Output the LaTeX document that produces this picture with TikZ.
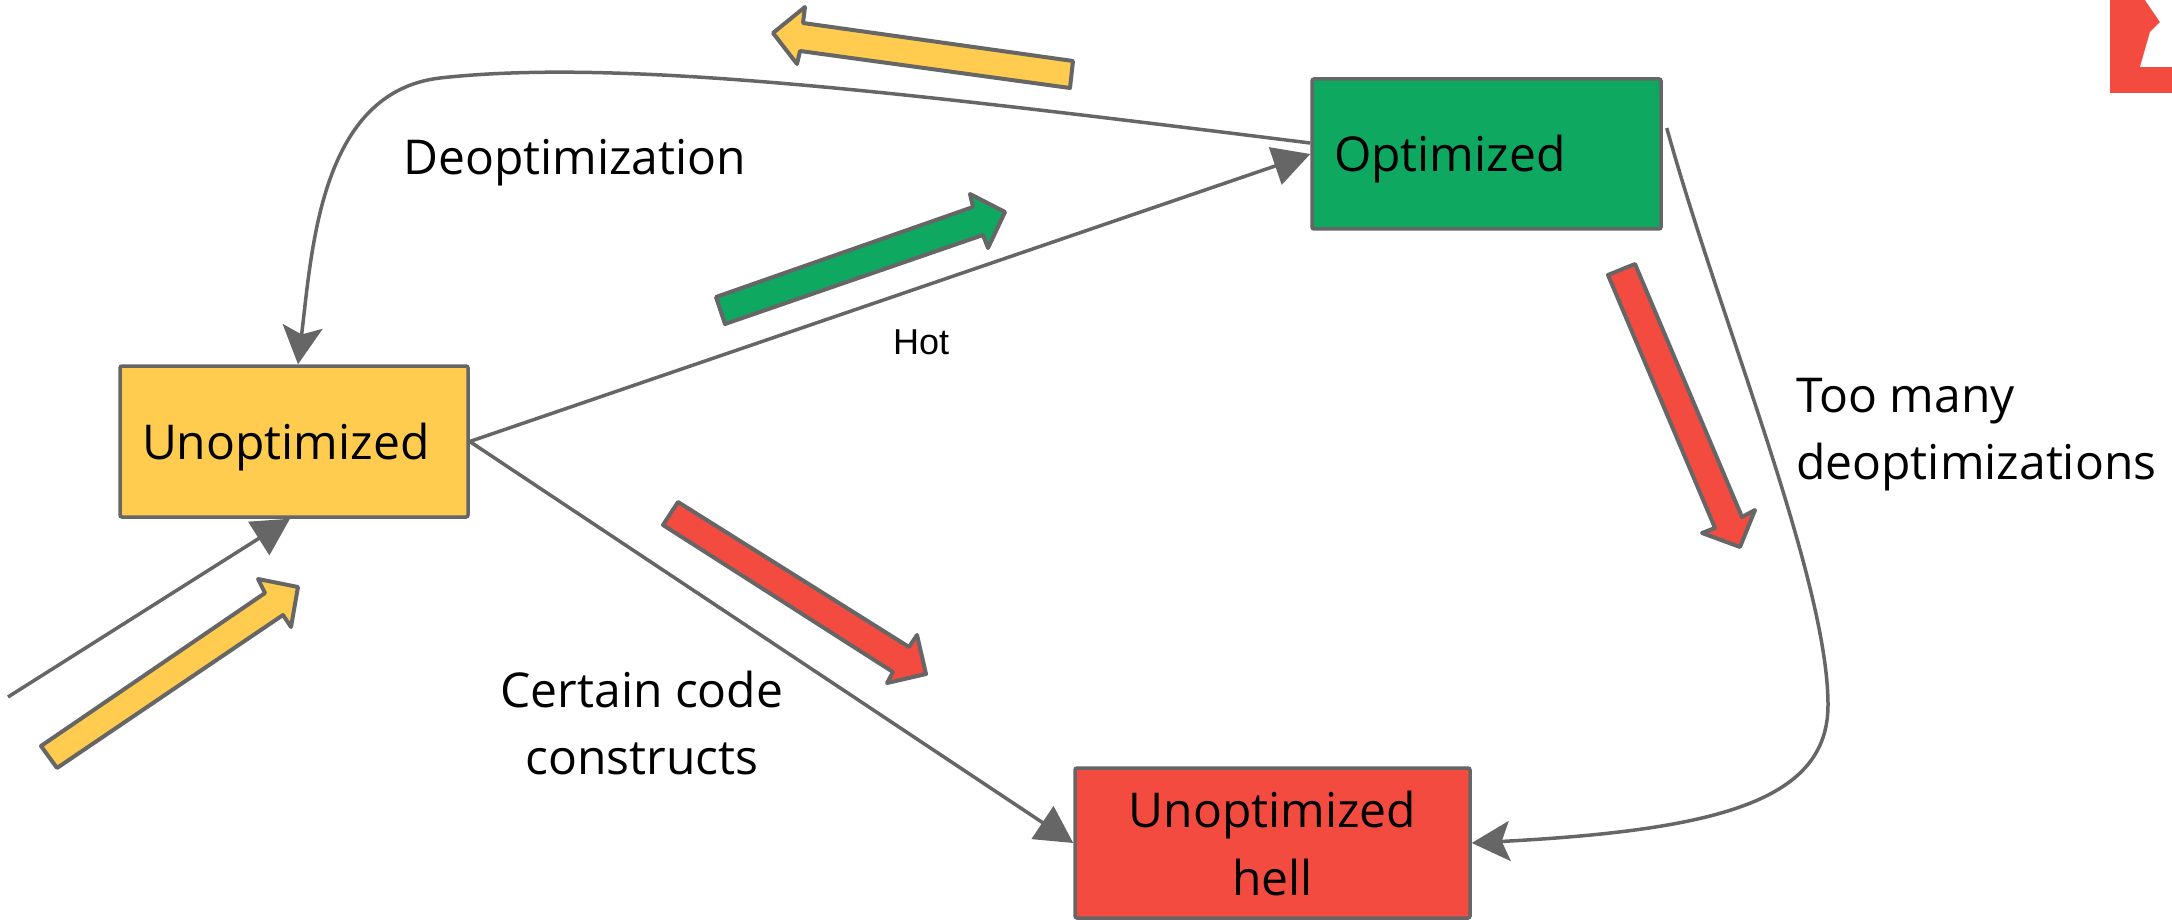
\documentclass[tikz,border=0pt]{standalone}
\usepackage{fontspec}
\setmainfont{Open Sans}
\newfontfamily\hotfont{Liberation Sans}
\usetikzlibrary{arrows.meta}

\definecolor{edgegray}{HTML}{666666}
\definecolor{boxyellow}{HTML}{FFCC4F}
\definecolor{boxgreen}{HTML}{0FA860}
\definecolor{boxred}{HTML}{F44B41}

\begin{document}
\begin{tikzpicture}[x=1pt,y=-1pt,
  statebox/.style={draw=edgegray, line width=3.5pt, rounded corners=2pt, inner sep=0pt,
    font=\fontsize{48}{68}\selectfont},
  leftbox/.style={statebox, align=left, inner xsep=22pt, text height=35pt, text depth=0pt},
  conn/.style={draw=edgegray, line width=3.5pt},
  straight/.style={conn, -{Triangle[length=37pt,width=39pt]}},
  curved/.style={conn, -{Stealth[length=38pt,width=40pt,inset=8pt]}},
  blockarrow/.style={draw=edgegray, line width=4pt, line join=round},
  edgetext/.style={inner sep=0pt, font=\fontsize{48}{67}\selectfont}
]
\useasboundingbox (0,0) rectangle (2172,920);
\fill[white] (0,0) rectangle (2172,920);

% corner logo fragment
\fill[boxred] (2110,0) rectangle (2172,93);
\fill[white] (2145,0) -- (2160,22) -- (2150,32) -- (2140,67) -- (2172,67) -- (2172,0) -- cycle;

% states
\node[leftbox, fill=boxyellow, text width=304pt, minimum height=151pt] (u) at (294,441.5) {Unoptimized};
\node[leftbox, fill=boxgreen, text width=305pt, minimum height=150pt] (o) at (1486.5,154) {Optimized};
\node[statebox, fill=boxred, align=center, minimum width=395pt, minimum height=150pt] (h) at (1272.5,843) {Unoptimized\\hell};

% transitions
\coordinate (entry) at (8,697);
\draw[straight] (u.east) -- (o.west);
\draw[straight] (u.east) -- (h.west);
\draw[straight] (entry) -- ([xshift=-4pt]u.south);
\draw[curved] ([yshift=11pt]o.west) .. controls (900,92) and (620,58) .. (440,78)
  .. controls (320,92) and (312,250) .. ([xshift=4pt]u.north);
\draw[curved] ([xshift=4pt,yshift=26pt]o.east) .. controls (1720,320) and (1828,580) .. (1828,705)
  .. controls (1828,800) and (1720,830) .. (h.east);

% labels
\node[edgetext, anchor=base west] (deopt) at (403,175) {Deoptimization};
\node[inner sep=0pt, font=\hotfont\fontsize{36}{40}\selectfont, anchor=base west] (hot) at (893,354) {Hot};
\node[edgetext, align=left, anchor=north west] (toomany) at (1796,378) {Too many\\deoptimizations};
\node[edgetext, align=center, anchor=north] (certain) at (642,671) {Certain code\\constructs};

% block arrows showing direction of flow
\draw[blockarrow, fill=boxyellow] (773,33) -- (805,7) -- (803,23) -- (1073,61) -- (1070,88) -- (800,51) -- (797,64) -- cycle;
\draw[blockarrow, fill=boxyellow] (41,746) -- (265,593) -- (258,579) -- (298,587) -- (291,627) -- (283,615) -- (57,768) -- cycle;
\draw[blockarrow, fill=boxgreen] (716,297) -- (973,207) -- (970,194) -- (1005,212) -- (988,248) -- (983,235) -- (725,324) -- cycle;
\draw[blockarrow, fill=boxred] (678,502) -- (909,647) -- (917,635) -- (926,674) -- (887,683) -- (893,672) -- (663,525) -- cycle;
\draw[blockarrow, fill=boxred] (1608,275) -- (1635,264) -- (1742,517) -- (1755,510) -- (1740,547) -- (1702,533) -- (1715,528) -- cycle;
\end{tikzpicture}
\end{document}
